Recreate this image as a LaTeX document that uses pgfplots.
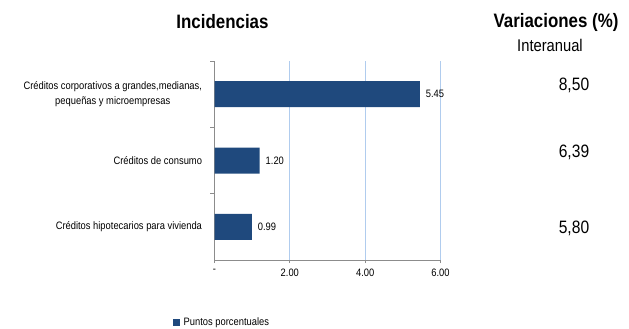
\documentclass[border=0pt]{standalone}
\usepackage{fontspec}
\setmainfont{Liberation Sans}[FakeStretch=0.87]
\usepackage{pgfplots}
\pgfplotsset{compat=1.18}

\definecolor{barblue}{RGB}{31,73,125}
\definecolor{gridblue}{RGB}{176,204,238}
\definecolor{axisgray}{RGB}{140,140,140}

\newcommand{\lblfont}{\fontsize{10.8}{16}\selectfont}

\begin{document}
\begin{tikzpicture}
\path[use as bounding box] (0,0) rectangle (629bp,329bp);

\begin{axis}[
  at={(214.5bp,69bp)}, anchor=south west,
  scale only axis, width=226bp, height=199bp,
  xbar, bar width=26bp,
  xmin=0, xmax=6,
  ymin=-0.5, ymax=2.5, y dir=reverse,
  axis lines*=left,
  axis line style={axisgray, line width=0.9pt},
  xtick={0,2,4,6},
  xticklabels={-, 2.00, 4.00, 6.00},
  ytick={0,1,2},
  yticklabels={{Créditos corporativos a grandes,medianas,\\pequeñas y microempresas},
               {Créditos de consumo},
               {Créditos hipotecarios para vivienda}},
  minor ytick={-0.5,0.5,1.5},
  major y tick style={draw=none},
  minor y tick style={axisgray, line width=0.9pt},
  minor tick length=4bp,
  major tick length=3bp,
  tick align=outside,
  x tick style={axisgray, line width=0.9pt},
  xmajorgrids,
  grid style={gridblue, line width=1.1pt},
  ticklabel style={font=\lblfont, text=black},
  yticklabel style={align=center, anchor=east, xshift=-6bp},
  xticklabel style={yshift=-2.5bp},
  nodes near coords,
  nodes near coords style={font=\lblfont, text=black, anchor=west, xshift=2.5bp,
    /pgf/number format/.cd, fixed, fixed zerofill, precision=2, assume math mode=true},
  legend style={at={(axis description cs:-0.184,-0.313)}, anchor=west,
    draw=none, fill=none, inner sep=0pt, font=\lblfont,
    nodes={inner xsep=4bp}},
  legend image code/.code={\fill[barblue] (0bp,-3.3bp) rectangle (6.6bp,3.3bp);},
  clip=false,
]
\addplot[fill=barblue, draw=none] coordinates {(5.45,0) (1.20,1) (0.99,2)};
\legend{Puntos porcentuales}
\end{axis}

\node[font=\fontsize{19.5}{22}\selectfont\bfseries] at (222.5bp,307bp) {Incidencias};
\node[font=\fontsize{19.5}{22}\selectfont\bfseries] at (556bp,307bp) {Variaciones (\%)};
\node[font=\fontsize{17}{20}\selectfont] at (550bp,284bp) {Interanual};
\node[font=\fontsize{18}{20}\selectfont] at (574bp,244bp) {8,50};
\node[font=\fontsize{18}{20}\selectfont] at (574bp,177bp) {6,39};
\node[font=\fontsize{18}{20}\selectfont] at (574bp,101bp) {5,80};
\end{tikzpicture}
\end{document}
